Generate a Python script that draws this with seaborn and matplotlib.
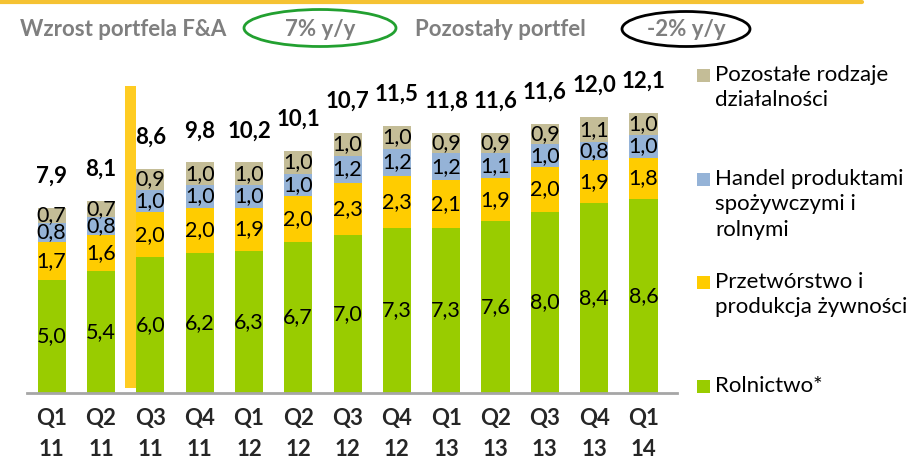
import matplotlib
matplotlib.use("Agg")
import matplotlib.pyplot as plt
from matplotlib.patches import Ellipse, Rectangle
from matplotlib.lines import Line2D
import numpy as np
import pandas as pd
import seaborn as sns

# ---- data ----
quarters = ["Q1\n11", "Q2\n11", "Q3\n11", "Q4\n11", "Q1\n12", "Q2\n12", "Q3\n12",
            "Q4\n12", "Q1\n13", "Q2\n13", "Q3\n13", "Q4\n13", "Q1\n14"]
rolnictwo = [5.0, 5.4, 6.0, 6.2, 6.3, 6.7, 7.0, 7.3, 7.3, 7.6, 8.0, 8.4, 8.6]
przetworstwo = [1.7, 1.6, 2.0, 2.0, 1.9, 2.0, 2.3, 2.3, 2.1, 1.9, 2.0, 1.9, 1.8]
handel = [0.8, 0.8, 1.0, 1.0, 1.0, 1.0, 1.2, 1.2, 1.2, 1.1, 1.0, 0.8, 1.0]
pozostale = [0.7, 0.7, 0.9, 1.0, 1.0, 1.0, 1.0, 1.0, 0.9, 0.9, 0.9, 1.1, 1.0]
totals = [7.9, 8.1, 8.6, 9.8, 10.2, 10.1, 10.7, 11.5, 11.8, 11.6, 11.6, 12.0, 12.1]

series_names = ["Rolnictwo*", "Przetwórstwo i\nprodukcja żywności",
                "Handel produktami\nspożywczymi i\nrolnymi", "Pozostałe rodzaje\ndziałalności"]
header_left = "Wzrost portfela F&A"
header_left_val = "7% y/y"
header_right = "Pozostały portfel"
header_right_val = "-2% y/y"

# ---- style ----
colors = ["#99CC00", "#FFCC00", "#95B3D7", "#C4BD97"]
FONT = ["Lato", "DejaVu Sans"]

sns.set_theme(style="white")
plt.rcParams["font.family"] = FONT

fig = plt.figure(figsize=(9.14, 4.61), dpi=100)
ax = fig.add_axes([27 / 914, 1 - 393 / 461, (677 - 27) / 914, (393 - 60) / 461])

layers = [rolnictwo, przetworstwo, handel, pozostale]
cums = np.cumsum(np.array(layers), axis=0)
df = pd.DataFrame({"q": quarters})
# draw cumulative stacks from top down so lower segments overlay
for i in range(3, -1, -1):
    df["v"] = cums[i]
    sns.barplot(data=df, x="q", y="v", color=colors[i], saturation=1,
                width=0.57, ax=ax, linewidth=0, order=quarters)

# segment labels
for i, layer in enumerate(layers):
    base = cums[i] - np.array(layer)
    for j, v in enumerate(layer):
        ax.text(j, base[j] + v / 2, f"{v:.1f}".replace(".", ","), ha="center",
                va="center", fontsize=15.5, color="black")

# totals
for j, t in enumerate(totals):
    ax.text(j, cums[3][j] + 1.4, f"{t:.1f}".replace(".", ","), ha="center",
            va="center", fontsize=16, fontweight="bold", color="black")

# divider bar between Q2 11 and Q3 11
ax.bar(1.6, 13.4, bottom=0.2, width=0.24, color="#FFCC22", linewidth=0, zorder=3)

ax.set_ylim(0, 14.73)
ax.set_xlim(-0.5, 12.68)
ax.set_xlabel("")
ax.set_ylabel("")
ax.set_yticks([])
for s in ["top", "right", "left"]:
    ax.spines[s].set_visible(False)
ax.spines["bottom"].set_color("#A6A6A6")
ax.spines["bottom"].set_linewidth(2)
ax.tick_params(axis="x", length=0, pad=11)
for lab in ax.get_xticklabels():
    lab.set_fontsize(16)
    lab.set_fontweight("bold")
    lab.set_linespacing(1.55)
    lab.set_fontfamily(FONT)

# top yellow line
fig.add_artist(Line2D([0, 862 / 914], [1 - 2 / 461, 1 - 2 / 461], color="#F5C232",
                      linewidth=3, transform=fig.transFigure))

# header
gray = "#7F7F7F"
hy = 1 - 29 / 461
fig.text(20 / 914, hy, header_left, fontsize=16, fontweight="bold",
         color=gray, ha="left", va="center")
fig.text(320 / 914, hy, header_left_val, fontsize=16, fontweight="bold",
         color=gray, ha="center", va="center")
fig.text(500 / 914, hy, header_right, fontsize=16, fontweight="bold",
         color=gray, ha="center", va="center")
fig.text(686 / 914, hy, header_right_val, fontsize=16, fontweight="bold",
         color=gray, ha="center", va="center")
fig.add_artist(Ellipse((320 / 914, 1 - 28 / 461), 152 / 914, 37 / 461,
                       transform=fig.transFigure, fill=False, edgecolor="#22A030",
                       linewidth=2))
fig.add_artist(Ellipse((686 / 914, 1 - 29 / 461), 128 / 914, 35 / 461,
                       transform=fig.transFigure, fill=False, edgecolor="black",
                       linewidth=2))

# legend (manual, to match multi-line layout)
legend_y = [76, 180, 283, 387]  # first-line center y (px)
legend_order = [3, 2, 1, 0]
for y, idx in zip(legend_y, legend_order):
    fig.add_artist(Rectangle((697 / 914, 1 - (y + 6) / 461), 13 / 914, 13 / 461,
                             transform=fig.transFigure, color=colors[idx], linewidth=0))
    fig.text(715 / 914, 1 - (y - 11) / 461, series_names[idx], fontsize=16,
             ha="left", va="top", linespacing=1.33, color="black")

fig.savefig("out.png", dpi=100)
